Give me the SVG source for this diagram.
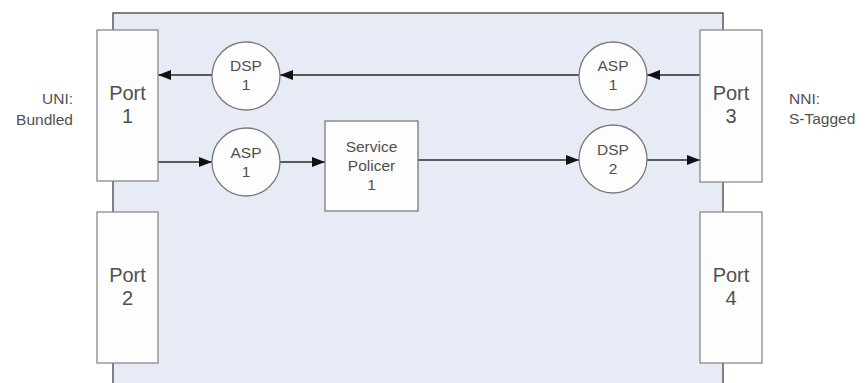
<svg xmlns="http://www.w3.org/2000/svg" width="865" height="383" viewBox="0 0 865 383">
<style>
.port{fill:#fdfdfd;stroke:#8a8a8a;stroke-width:1.3}
.proc{fill:#fdfdfd;stroke:#7a7a7a;stroke-width:1.3}
.t{font-family:"Liberation Sans",Arial,sans-serif;fill:#505050;text-anchor:middle}
.pt{font-size:20px}
.ct{font-size:15.5px}
.st{font-size:15.5px}
.lb{font-family:"Liberation Sans",Arial,sans-serif;fill:#505050;font-size:15.5px}
.conn{stroke:#2a2a2a;stroke-width:1.6;fill:none;marker-end:url(#ah)}
</style>
<defs>
<marker id="ah" markerUnits="userSpaceOnUse" markerWidth="14" markerHeight="12" refX="13" refY="6" orient="auto">
<path d="M0,1 L13,6 L0,11 Z" fill="#111"/>
</marker>
</defs>
<rect width="865" height="383" fill="#ffffff"/>
<g id="chassis">
<rect x="113" y="13" width="610" height="380" fill="#e6ebf6"/>
<path d="M113,390 L113,13 L723,13 L723,390" fill="none" stroke="#5a5a5a" stroke-width="1.5"/>
</g>
<g id="connectors">
<line class="conn" x1="700" y1="75" x2="647" y2="75"/>
<line class="conn" x1="579" y1="75" x2="280" y2="75"/>
<line class="conn" x1="212" y1="75" x2="158" y2="75"/>
<line class="conn" x1="158" y1="162" x2="212" y2="162"/>
<line class="conn" x1="280" y1="162" x2="325" y2="162"/>
<line class="conn" x1="418" y1="160" x2="579" y2="160"/>
<line class="conn" x1="647" y1="160" x2="700" y2="160"/>
</g>
<g id="port1">
<rect class="port" x="97" y="30" width="61" height="151"/>
<text class="t pt" x="127.5" y="100">Port</text>
<text class="t pt" x="127.5" y="123">1</text>
</g>
<g id="port2">
<rect class="port" x="97" y="212" width="61" height="151"/>
<text class="t pt" x="127.5" y="282">Port</text>
<text class="t pt" x="127.5" y="305">2</text>
</g>
<g id="port3">
<rect class="port" x="700" y="30" width="62" height="152"/>
<text class="t pt" x="731" y="100">Port</text>
<text class="t pt" x="731" y="123">3</text>
</g>
<g id="port4">
<rect class="port" x="700" y="212" width="62" height="151"/>
<text class="t pt" x="731" y="282">Port</text>
<text class="t pt" x="731" y="305">4</text>
</g>
<g id="dsp1">
<circle class="proc" cx="246" cy="76" r="34"/>
<text class="t ct" x="246" y="71">DSP</text>
<text class="t ct" x="246" y="90">1</text>
</g>
<g id="asp1-left">
<circle class="proc" cx="246" cy="162" r="34"/>
<text class="t ct" x="246" y="158">ASP</text>
<text class="t ct" x="246" y="177">1</text>
</g>
<g id="asp1-right">
<circle class="proc" cx="613" cy="76" r="34"/>
<text class="t ct" x="613" y="71">ASP</text>
<text class="t ct" x="613" y="90">1</text>
</g>
<g id="dsp2">
<circle class="proc" cx="613" cy="159" r="34"/>
<text class="t ct" x="613" y="155">DSP</text>
<text class="t ct" x="613" y="174">2</text>
</g>
<g id="policer">
<rect class="proc" x="325" y="121" width="93" height="90"/>
<text class="t st" x="371.5" y="152">Service</text>
<text class="t st" x="371.5" y="171">Policer</text>
<text class="t st" x="371.5" y="190">1</text>
</g>
<g id="uni-label">
<text class="lb" x="73" y="104" text-anchor="end">UNI:</text>
<text class="lb" x="73" y="125" text-anchor="end">Bundled</text>
</g>
<g id="nni-label">
<text class="lb" x="789" y="104">NNI:</text>
<text class="lb" x="789" y="124">S-Tagged</text>
</g>
</svg>
